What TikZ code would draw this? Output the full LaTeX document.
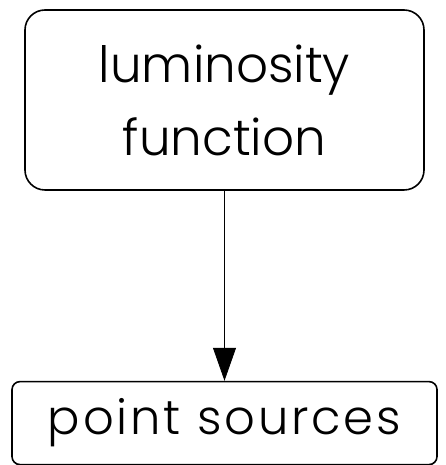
\documentclass[tikz,border=0pt]{standalone}
\usepackage{fontspec}
\setmainfont{Poppins}[UprightFont=* Light]
\usetikzlibrary{arrows.meta,positioning}

\begin{document}
\begin{tikzpicture}[x=1pt, y=1pt,
 stage/.style={draw, line width=1.6pt, rounded corners=20pt, align=center, inner sep=0pt}]
 \useasboundingbox (0,0) rectangle (446,465);

 % Boxes
 \node[stage, minimum width=399pt, minimum height=180pt,
 font=\fontsize{50}{73}\selectfont] (lumfunc) at (224.5,365) {luminosity\\function};
 \node[stage, rounded corners=8pt, minimum width=425pt, minimum height=83pt,
 font=\fontsize{48}{50}\selectfont\addfontfeatures{LetterSpace=6}, below=190pt of lumfunc] (ptsrc) {point sources};

 % Arrow
 \draw[-{Triangle[length=33pt,width=23pt]}, line width=0.8pt] (lumfunc) -- (ptsrc);
\end{tikzpicture}
\end{document}
